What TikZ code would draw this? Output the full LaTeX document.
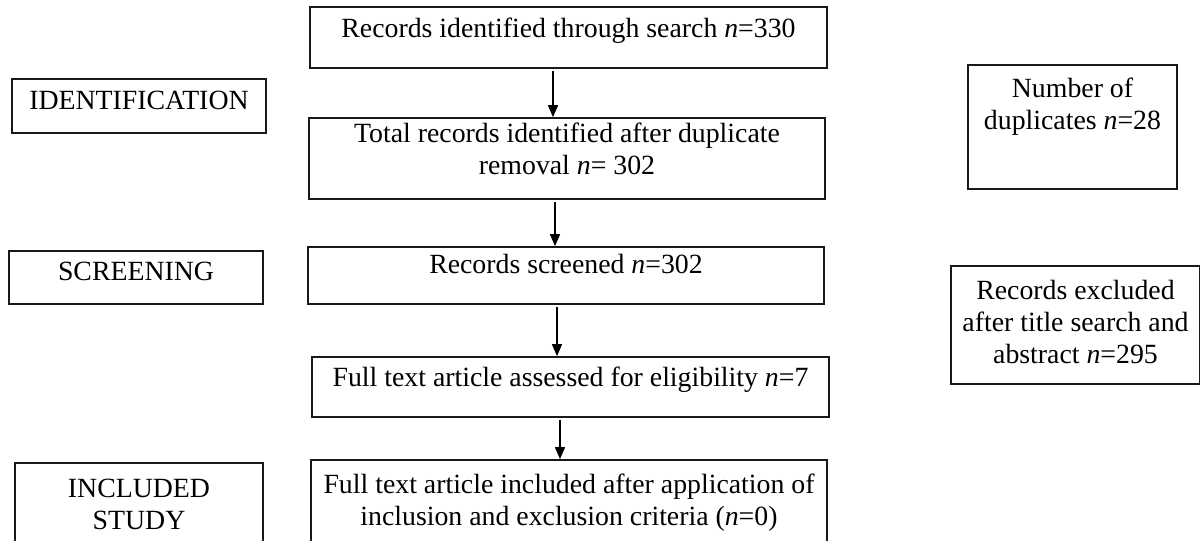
\documentclass[tikz,border=0pt]{standalone}
\usepackage{fontspec}
\setmainfont{Liberation Serif}
\usetikzlibrary{arrows.meta}
\newcommand{\lifted}[2]{\raisebox{#1}[\dimexpr\height+#1\relax][\dimexpr\depth+#1\relax]{\begin{tabular}{@{}c@{}}#2\end{tabular}}}
\begin{document}
\begin{tikzpicture}[x=1pt,y=-1pt,
  box/.style={draw=black!90, line width=1.7pt, rectangle, inner sep=0pt, align=center,
    font=\fontsize{27.8}{32}\selectfont},
  arr/.style={draw=black, line width=1.5pt, -{Triangle[length=12pt,width=10pt]}, shorten <=2pt}]
\useasboundingbox (0,0) rectangle (1200,541);
% centre column
\node[box, minimum width=517pt, minimum height=61pt] (b1) at (568.5,37.5)
  {\lifted{6pt}{Records identified through search \textit{n}=330}};
\node[box, minimum width=516pt, minimum height=81pt] (b2) at (567,158.5)
  {\lifted{6pt}{Total records identified after duplicate\\removal \textit{n}= 302}};
\node[box, minimum width=516pt, minimum height=57pt] (b3) at (566,275.5)
  {\lifted{8.5pt}{Records screened \textit{n}=302}};
\node[box, minimum width=517pt, minimum height=60pt] (b4) at (570.5,387)
  {\lifted{7pt}{Full text article assessed for eligibility \textit{n}=7}};
\node[box, minimum width=516pt, minimum height=100pt] (b5) at (569,510)
  {\lifted{7pt}{Full text article included after application of\\inclusion and exclusion criteria (\textit{n}=0)}};
% stage labels
\node[box, minimum width=254pt, minimum height=54pt] (ident) at (139,106)
  {\lifted{3pt}{IDENTIFICATION}};
\node[box, minimum width=254pt, minimum height=53pt] (screen) at (136,277.5)
  {\lifted{3pt}{SCREENING}};
\node[box, minimum width=248pt, minimum height=100pt] (incl) at (139,513)
  {\lifted{6pt}{INCLUDED\\STUDY}};
% side boxes
\node[box, minimum width=209pt, minimum height=124pt] (dup) at (1072.5,127)
  {\lifted{20pt}{Number of\\duplicates \textit{n}=28}};
\node[box, minimum width=249pt, minimum height=118pt] (excl) at (1075.5,325)
  {\lifted{0pt}{Records excluded\\after title search and\\abstract \textit{n}=295}};
% arrows
\draw[arr] ([xshift=-15.5pt]b1.south) -- ([xshift=-14pt]b2.north);
\draw[arr] ([xshift=-12pt]b2.south) -- ([xshift=-11pt]b3.north);
\draw[arr] ([xshift=-9pt]b3.south) -- ([xshift=-13.5pt]b4.north);
\draw[arr] ([xshift=-10.5pt]b4.south) -- ([xshift=-9pt]b5.north);
\end{tikzpicture}
\end{document}
